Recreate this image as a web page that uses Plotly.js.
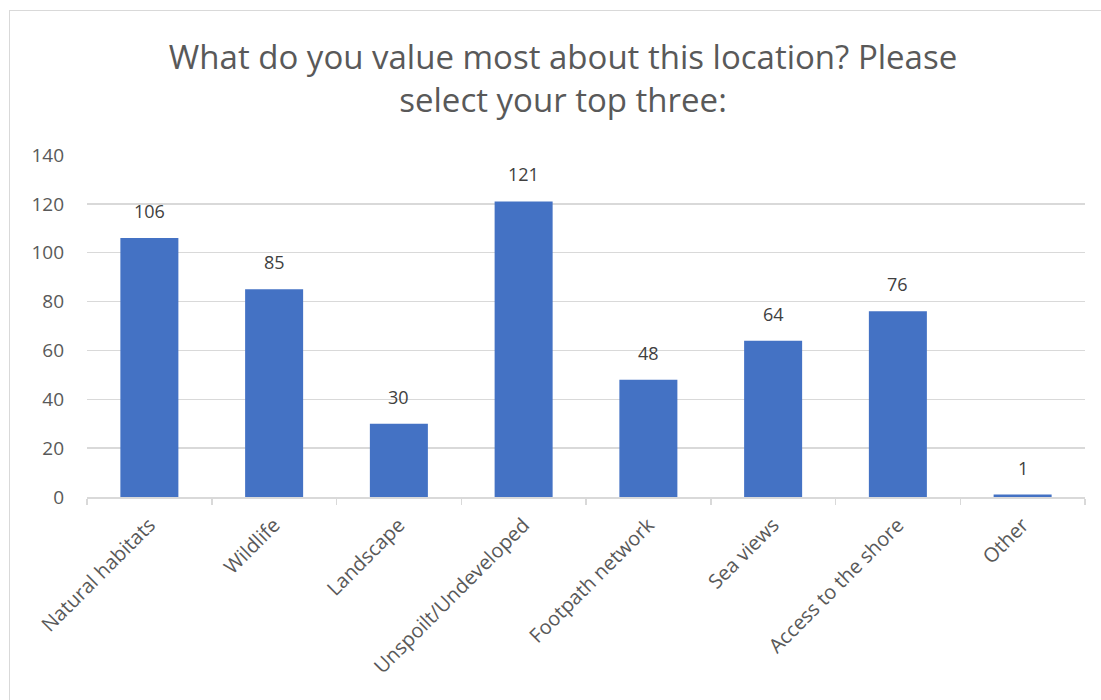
<!DOCTYPE html>
<html>
<head>
<meta charset="utf-8">
<script src="https://cdn.plot.ly/plotly-3.0.1.min.js"></script>
<style>
  html, body { margin: 0; padding: 0; background: #fff; }
  #wrap { position: relative; width: 1101px; height: 700px; overflow: hidden; }
  #chart { width: 1101px; height: 700px; }
  #frame { position: absolute; left: 9px; top: 10px; width: 1200px; height: 800px;
           border-left: 1.5px solid #d9d9d9; border-top: 1.5px solid #d9d9d9; pointer-events: none; }
</style>
</head>
<body>
<div id="wrap">
  <div id="chart"></div>
  <div id="frame"></div>
</div>
<script>
const categories = ["Natural habitats", "Wildlife", "Landscape", "Unspoilt/Undeveloped",
                    "Footpath network", "Sea views", "Access to the shore", "Other"];
const counts = [106, 85, 30, 121, 48, 64, 76, 1];
const yTicks = [0, 20, 40, 60, 80, 100, 120, 140];
const titleText = "What do you value most about this location? Please<br>select your top three:";

const font = "Open Sans, Liberation Sans, sans-serif";

const trace = {
  type: "bar",
  x: categories,
  y: counts,
  marker: { color: "#4472C4" },
  hoverinfo: "x+y"
};

const annotations = categories.map((c, i) => ({
  x: c, y: counts[i], xref: "x", yref: "y",
  text: String(counts[i]), showarrow: false,
  yanchor: "bottom", yshift: 13,
  font: { family: font, size: 18, color: "#404040" }
}));

const layout = {
  width: 1101, height: 700,
  margin: { l: 87, r: 16, t: 155, b: 203 },
  paper_bgcolor: "#ffffff", plot_bgcolor: "#ffffff",
  bargap: 0.535,
  showlegend: false,
  title: {
    text: titleText,
    x: 0.477, xref: "paper", xanchor: "center",
    y: 0.901, yref: "container", yanchor: "middle",
    font: { family: font, size: 33, color: "#595959" }
  },
  xaxis: {
    type: "category",
    tickangle: -45,
    tickfont: { family: font, size: 20, color: "#595959" },
    showline: true, linecolor: "#d9d9d9", linewidth: 1.5,
    ticks: "outside", tickson: "boundaries", ticklen: 6, tickcolor: "#d9d9d9", tickwidth: 1.5,
    ticklabelstandoff: 7,
    showgrid: false, zeroline: false, fixedrange: true
  },
  yaxis: {
    range: [0, 140],
    tickvals: yTicks,
    ticktext: yTicks.map(String),
    tickfont: { family: font, size: 19, color: "#595959" },
    showgrid: true, gridcolor: "#d9d9d9", gridwidth: 1.5,
    zeroline: false, showline: false, ticks: "", ticklabelstandoff: 22,
    fixedrange: true
  },
  annotations: annotations
};

Plotly.newPlot("chart", [trace], layout, { displayModeBar: false, staticPlot: true });
</script>
</body>
</html>
